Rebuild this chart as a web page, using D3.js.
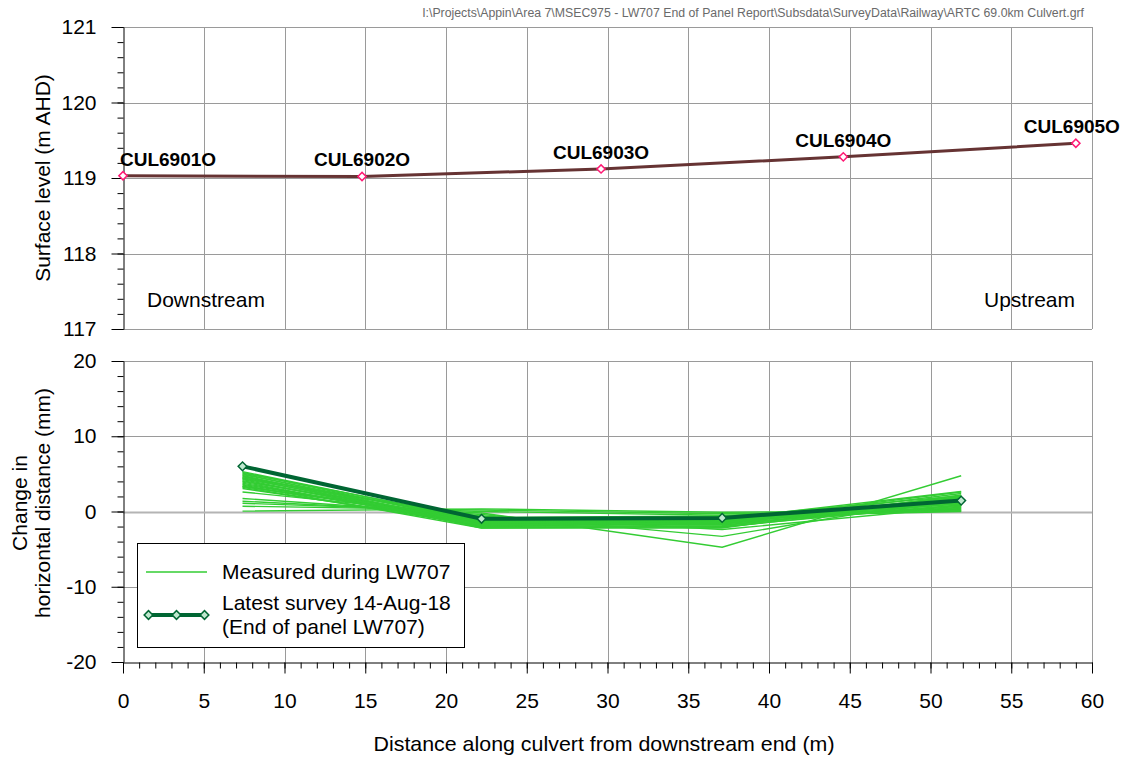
<!DOCTYPE html>
<html>
<head>
<meta charset="utf-8">
<script src="https://cdn.jsdelivr.net/npm/d3@7"></script>
<style>
  html, body { margin: 0; padding: 0; background: #fff; }
  svg { display: block; font-family: Arial, "Liberation Sans", Helvetica, sans-serif; }
</style>
</head>
<body>
<svg id="chart" width="1126" height="758"></svg>
<script>
// ---- Data ----
const filePath = "I:\\Projects\\Appin\\Area 7\\MSEC975 - LW707 End of Panel Report\\Subsdata\\SurveyData\\Railway\\ARTC 69.0km Culvert.grf";

// Surface survey marks along the culvert
const markNames = ["CUL6901O", "CUL6902O", "CUL6903O", "CUL6904O", "CUL6905O"];
const markDist = [0.0, 14.8, 29.6, 44.6, 59.0];
const markLevel = [119.03, 119.02, 119.12, 119.28, 119.46];

// Bay midpoints where change in horizontal distance is reported
const bayDist = [7.4, 22.2, 37.1, 51.9];

// Change in horizontal distance (mm) for each survey during LW707
const measuredSeries = [
  [0.05, 0.35, -0.1, 0.05],
  [0.7, 0.2, -0.3, 0.2],
  [1.1, 0.0, -0.5, 0.3],
  [1.37, -0.2, -4.75, 4.75],
  [1.73, -0.4, -3.3, 2.0],
  [2.6, -0.6, -2.4, 0.6],
  [3.05, -1.6, -1.2, 0.4],
  [3.2, -1.9, -1.6, 0.7],
  [3.3, -0.9, -0.7, 0.0],
  [3.35, -1.3, -1.0, 0.5],
  [3.5, -2.2, -2.0, 0.9],
  [3.6, -1.5, -1.4, 0.8],
  [3.75, -1.8, -1.8, 1.1],
  [3.9, -2.0, -2.1, 1.3],
  [4.0, -1.2, -1.1, 1.0],
  [4.1, -1.7, -1.5, 1.4],
  [4.25, -2.1, -1.9, 1.6],
  [4.35, -1.4, -1.3, 1.2],
  [4.45, -0.8, -0.6, 0.1],
  [4.5, -1.9, -1.7, 1.8],
  [4.6, -1.1, -0.9, 1.5],
  [4.7, -1.6, -1.6, 2.0],
  [4.8, -2.2, -2.2, 2.2],
  [4.9, -1.3, -1.2, 1.9],
  [5.0, -1.8, -1.5, 2.4],
  [5.1, -1.0, -0.8, 2.1],
  [5.2, -1.5, -1.3, 2.6],
  [5.3, -1.2, -1.0, 2.65]
];

// Latest survey 14-Aug-18 (end of panel LW707)
const latestSeries = [6.0, -0.97, -0.85, 1.45];

const xTicks = d3.range(0, 61, 5);
const topTicks = [117, 118, 119, 120, 121];
const bottomTicks = [-20, -10, 0, 10, 20];

const legendLabels = ["Measured during LW707", "Latest survey 14-Aug-18", "(End of panel LW707)"];

// ---- Layout ----
const svg = d3.select("#chart");
const plotLeft = 123, plotRight = 1092;
const topY0 = 27, topY1 = 329;
const botY0 = 361, botY1 = 662;
const fontSize = 21;

const x = d3.scaleLinear().domain([0, 60]).range([plotLeft, plotRight]);
const yTop = d3.scaleLinear().domain([117, 121]).range([topY1, topY0]);
const yBot = d3.scaleLinear().domain([-20, 20]).range([botY1, botY0]);

const gridColor = "#9a9a9a";
const plainFormat = d => String(d);

// ---- Grids ----
function drawGrid(yScale, yTicksArr, y0, y1, zeroVal) {
  const g = svg.append("g");
  g.selectAll("line.v").data(xTicks.filter(d => d > 0)).join("line")
    .attr("x1", d => Math.round(x(d)) + 0.5).attr("x2", d => Math.round(x(d)) + 0.5)
    .attr("y1", y0).attr("y2", y1)
    .attr("stroke", gridColor).attr("stroke-width", 1);
  g.selectAll("line.h").data(yTicksArr).join("line")
    .attr("x1", plotLeft).attr("x2", plotRight)
    .attr("y1", d => Math.round(yScale(d)) + 0.5).attr("y2", d => Math.round(yScale(d)) + 0.5)
    .attr("stroke", d => d === zeroVal ? "#b4b4b4" : gridColor)
    .attr("stroke-width", d => d === zeroVal ? 2 : 1);
}
drawGrid(yTop, topTicks, topY0, topY1, null);
drawGrid(yBot, bottomTicks.filter(d => d > -20), botY0, botY1, 0);

// ---- Axes ----
function styleAxis(g) {
  g.select(".domain").attr("stroke", "#000");
  g.selectAll(".tick line").attr("stroke", "#000");
  g.selectAll(".tick text").attr("font-size", fontSize).attr("fill", "#000")
    .attr("font-family", "Arial, 'Liberation Sans', sans-serif");
}

function leftAxis(yScale, ticks, minorStep) {
  const [lo, hi] = yScale.domain();
  svg.append("g").attr("transform", `translate(${plotLeft + 0.5},0)`)
    .call(d3.axisLeft(yScale).tickValues(d3.range(lo, hi + 1e-9, minorStep)).tickSize(6).tickFormat(""))
    .call(g => { g.select(".domain").remove(); g.selectAll(".tick line").attr("stroke", "#000"); });
  svg.append("g").attr("transform", `translate(${plotLeft + 0.5},0)`)
    .call(d3.axisLeft(yScale).tickValues(ticks).tickSize(12).tickSizeOuter(0).tickPadding(15).tickFormat(plainFormat))
    .call(styleAxis);
}
leftAxis(yTop, topTicks, 0.2);
leftAxis(yBot, bottomTicks, 2);

// bottom x axis
svg.append("g").attr("transform", `translate(0,${botY1 + 0.5})`)
  .call(d3.axisBottom(x).tickValues(d3.range(0, 61, 1)).tickSize(6).tickFormat(""))
  .call(g => { g.select(".domain").remove(); g.selectAll(".tick line").attr("stroke", "#000"); });
svg.append("g").attr("transform", `translate(0,${botY1 + 0.5})`)
  .call(d3.axisBottom(x).tickValues(xTicks).tickSize(11).tickSizeOuter(0).tickPadding(20).tickFormat(plainFormat))
  .call(styleAxis);

// ---- Axis titles ----
svg.append("text")
  .attr("transform", `translate(50,${(topY0 + topY1) / 2}) rotate(-90)`)
  .attr("text-anchor", "middle").attr("font-size", fontSize)
  .text("Surface level (m AHD)");

const botTitle = svg.append("text")
  .attr("transform", `translate(0,503) rotate(-90)`)
  .attr("text-anchor", "middle").attr("font-size", fontSize);
botTitle.append("tspan").attr("x", 0).attr("y", 27).text("Change in");
botTitle.append("tspan").attr("x", 0).attr("y", 50).text("horizontal distance (mm)");

svg.append("text")
  .attr("x", 604).attr("y", 751)
  .attr("text-anchor", "middle").attr("font-size", fontSize)
  .attr("textLength", 461).attr("lengthAdjust", "spacingAndGlyphs")
  .text("Distance along culvert from downstream end (m)");

// file path caption
svg.append("text")
  .attr("x", 1084).attr("y", 17)
  .attr("text-anchor", "end").attr("font-size", 12.3).attr("fill", "#6a6a6a")
  .text(filePath);

// ---- Top panel: surface level ----
svg.append("text").attr("x", 147).attr("y", 307).attr("font-size", fontSize).text("Downstream");
svg.append("text").attr("x", 1075).attr("y", 307).attr("font-size", fontSize).attr("text-anchor", "end").text("Upstream");

const surf = markDist.map((d, i) => ({ name: markNames[i], d, v: markLevel[i] }));
svg.append("path").datum(surf)
  .attr("fill", "none").attr("stroke", "#663333").attr("stroke-width", 3)
  .attr("d", d3.line().x(p => x(p.d)).y(p => yTop(p.v)));

// diamond = square turned 45 degrees
const diamond = d3.symbol().type(d3.symbolSquare);
svg.selectAll("path.mk").data(surf).join("path")
  .attr("transform", p => `translate(${x(p.d)},${yTop(p.v)}) rotate(45)`)
  .attr("d", diamond.size(34)())
  .attr("fill", "#fff").attr("stroke", "#ff1a75").attr("stroke-width", 1.5);

svg.selectAll("text.mk").data(surf).join("text")
  .attr("font-size", 19).attr("font-weight", "bold")
  .attr("y", p => yTop(p.v) - 10)
  .text(p => p.name)
  .each(function (p) {
    const w = this.getComputedTextLength();
    let cx = x(p.d) - (p.d > 55 ? 4 : 0);
    if (cx - w / 2 < plotLeft - 3) cx = plotLeft - 3 + w / 2;
    d3.select(this).attr("x", cx).attr("text-anchor", "middle");
  });

// ---- Bottom panel: change in horizontal distance ----
const line = d3.line().x((v, i) => x(bayDist[i])).y(v => yBot(v));

svg.append("g").selectAll("path").data(measuredSeries).join("path")
  .attr("fill", "none").attr("stroke", "#33cc33").attr("stroke-width", 1.4)
  .attr("d", line);

svg.append("path").datum(latestSeries)
  .attr("fill", "none").attr("stroke", "#006633").attr("stroke-width", 4)
  .attr("d", line);

svg.selectAll("path.lt").data(latestSeries).join("path")
  .attr("transform", (v, i) => `translate(${x(bayDist[i])},${yBot(v)}) rotate(45)`)
  .attr("d", diamond.size(38)())
  .attr("fill", "#bfe8cf").attr("stroke", "#006633").attr("stroke-width", 1.5);

// ---- Legend ----
const lg = svg.append("g");
lg.append("rect").attr("x", 137.5).attr("y", 543.5).attr("width", 327).attr("height", 104)
  .attr("fill", "#fff").attr("stroke", "#000").attr("stroke-width", 1);
lg.append("line").attr("x1", 146).attr("x2", 207).attr("y1", 572).attr("y2", 572)
  .attr("stroke", "#33cc33").attr("stroke-width", 1.4);
lg.append("text").attr("x", 222).attr("y", 579).attr("font-size", fontSize).text(legendLabels[0]);
lg.append("line").attr("x1", 148).attr("x2", 205).attr("y1", 615).attr("y2", 615)
  .attr("stroke", "#006633").attr("stroke-width", 4);
lg.selectAll("path.lgm").data([148.5, 176.5, 204.5]).join("path")
  .attr("transform", d => `translate(${d},615) rotate(45)`)
  .attr("d", diamond.size(38)())
  .attr("fill", "#bfe8cf").attr("stroke", "#006633").attr("stroke-width", 1.5);
lg.append("text").attr("x", 222).attr("y", 610).attr("font-size", fontSize).text(legendLabels[1]);
lg.append("text").attr("x", 222).attr("y", 634).attr("font-size", fontSize).text(legendLabels[2]);
</script>
</body>
</html>
